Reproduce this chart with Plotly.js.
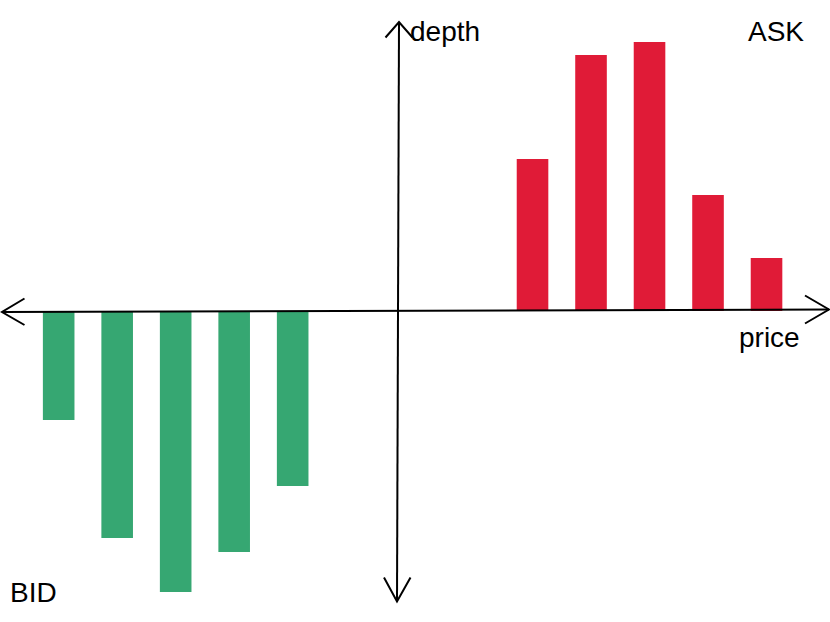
<!DOCTYPE html>
<html>
<head>
<meta charset="utf-8">
<script src="https://cdn.plot.ly/plotly-3.0.1.min.js"></script>
<style>
html,body{margin:0;padding:0;background:#fff;}
#chart{width:830px;height:622px;}
</style>
</head>
<body>
<div id="chart"></div>
<script>
// ---- data (prices relative to mid, depth in arbitrary units) ----
const bidPrices = [-5.8, -4.8, -3.8, -2.8, -1.8];
const bidDepths = [-10.9, -22.7, -28.1, -24.1, -17.5];
const askPrices = [2.3, 3.3, 4.3, 5.3, 6.3];
const askDepths = [15.2, 25.6, 26.9, 11.6, 5.3];
const labels = {y: "depth", x: "price", ask: "ASK", bid: "BID"};

const W = 830, H = 622;
const px = v => v / W;          // pixel -> paper x
const py = v => 1 - v / H;      // pixel -> paper y
const FONT = "Liberation Sans, Arial, Helvetica, sans-serif";

const traces = [
  {type: "bar", x: bidPrices, y: bidDepths, width: 0.54,
   marker: {color: "#36a772", line: {width: 0}}, hoverinfo: "skip"},
  {type: "bar", x: askPrices, y: askDepths, width: 0.54,
   marker: {color: "#e01b37", line: {width: 0}}, hoverinfo: "skip"}
];

const ln = {color: "#000", width: 2};
function seg(x0, y0, x1, y1) {
  return {type: "line", xref: "paper", yref: "paper",
          x0: px(x0), y0: py(y0), x1: px(x1), y1: py(y1), line: ln, layer: "above"};
}
function chev(a, tip, b) {
  return {type: "path", xref: "paper", yref: "paper", layer: "above",
          path: `M${px(a[0])},${py(a[1])} L${px(tip[0])},${py(tip[1])} L${px(b[0])},${py(b[1])}`,
          line: ln};
}

const shapes = [
  seg(2, 312, 829, 309.5),          // horizontal axis (price)
  seg(399, 22, 397, 601.5),         // vertical axis (depth)
  chev([24.5, 298.5], [2, 312], [24.5, 325]),
  chev([805, 295.5], [829, 309.5], [805, 323.5]),
  chev([385.5, 37.5], [399, 22], [412.5, 37.5]),
  chev([384, 577.5], [397, 601.5], [410.5, 577.5])
];

function lab(text, x, y) {
  return {text: text, xref: "paper", yref: "paper", x: px(x), y: py(y),
          xanchor: "left", yanchor: "middle", showarrow: false,
          font: {family: FONT, size: 28, color: "#000"}};
}

const layout = {
  width: W, height: H,
  margin: {l: 0, r: 0, t: 0, b: 0},
  paper_bgcolor: "#fff", plot_bgcolor: "#fff",
  showlegend: false,
  xaxis: {range: [-6.803, 7.385], visible: false, fixedrange: true},
  yaxis: {range: [-31.1, 31.1], visible: false, fixedrange: true},
  shapes: shapes,
  annotations: [
    lab(labels.y, 408, 31),
    lab(labels.ask, 746, 31),
    lab(labels.x, 737, 337),
    lab(labels.bid, 8, 592)
  ]
};

Plotly.newPlot("chart", traces, layout, {displayModeBar: false, staticPlot: true});
</script>
</body>
</html>
